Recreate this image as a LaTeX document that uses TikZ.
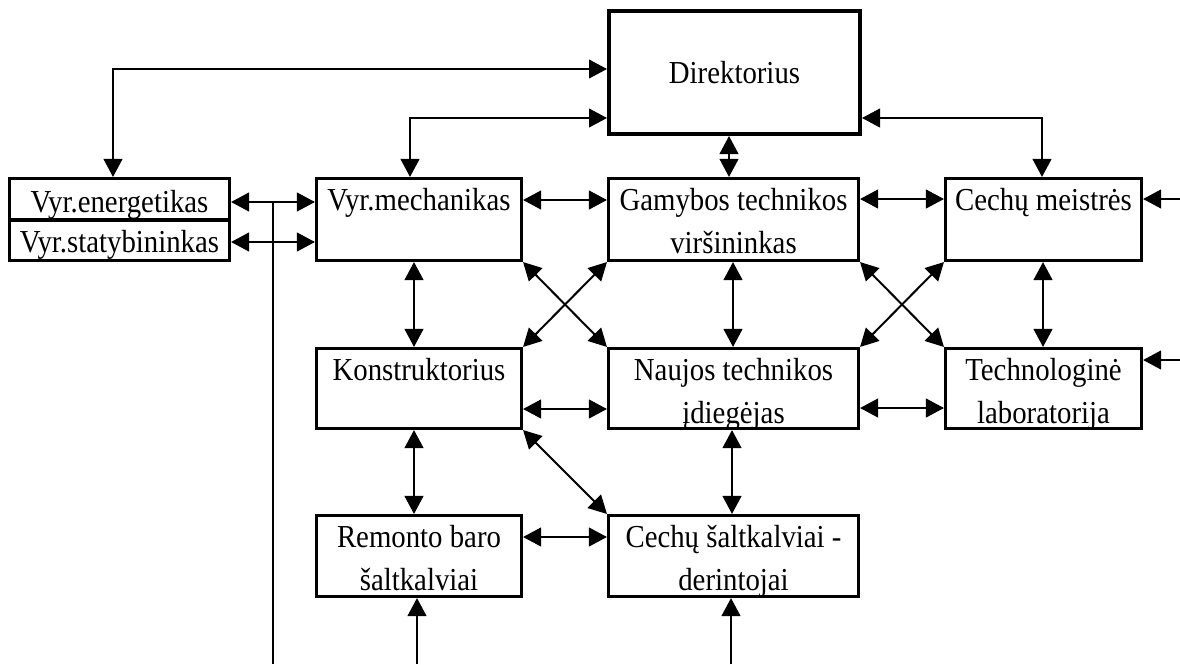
\documentclass[tikz,border=0pt]{standalone}
\usepackage{fontspec}
\setmainfont[FakeStretch=0.9]{Liberation Serif}
\usetikzlibrary{arrows.meta}
\begin{document}
\begin{tikzpicture}[x=0.75pt,y=-0.75pt,
  >={Triangle[length=13.5pt,width=14pt]},
  bx/.style 2 args={draw, line width=2.3pt, inner sep=0pt, minimum width=#1, minimum height=#2},
  txt/.style={inner sep=0pt, align=center, font=\fontsize{24pt}{32pt}\selectfont},
  con/.style={line width=1.5pt},
  thin/.style={line width=1.1pt}]
\useasboundingbox (0,0) rectangle (1180,664);
% boxes
\node[bx={188.25pt}{92.25pt}, line width=3pt] (dir) at (734.5,72.5) {};
\node[bx={165pt}{31.125pt}] (ener) at (119.5,199.25) {};
\node[bx={165pt}{30.375pt}] (stat) at (119.5,240.25) {};
\node[bx={153.75pt}{61.5pt}] (mech) at (419,219.5) {};
\node[bx={187.5pt}{61.5pt}] (gam) at (733.5,219.5) {};
\node[bx={147pt}{61.5pt}] (ceh) at (1043.5,219.5) {};
\node[bx={153.75pt}{60pt}] (kon) at (419,388.5) {};
\node[bx={187.5pt}{60pt}] (nau) at (733.5,388.5) {};
\node[bx={147pt}{60pt}] (tec) at (1043.5,388.5) {};
\node[bx={153.75pt}{60.75pt}] (rem) at (419,556) {};
\node[bx={187.5pt}{60.75pt}] (csa) at (733.5,556) {};
% texts
\node[txt, anchor=base] (tdir) at ([yshift=-7.9pt]dir.center) {Direktorius};
\node[txt, anchor=north] (tener) at ([yshift=-9.5pt]ener.north) {Vyr.energetikas};
\node[txt, anchor=north] (tstat) at ([yshift=-8.4pt]stat.north) {Vyr.statybininkas};
\node[txt, anchor=north] (tmech) at ([yshift=-8.4pt]mech.north) {Vyr.mechanikas};
\node[txt, anchor=north] (tgam) at ([yshift=-8.4pt]gam.north) {Gamybos technikos\\vir\v{s}ininkas};
\node[txt, anchor=north] (tceh) at ([yshift=-8.4pt]ceh.north) {Cech\k{u} meistr\.{e}s};
\node[txt, anchor=north] (tkon) at ([yshift=-8.4pt]kon.north) {Konstruktorius};
\node[txt, anchor=north] (tnau) at ([yshift=-8.4pt]nau.north) {Naujos technikos\\\k{i}dieg\.{e}jas};
\node[txt, anchor=north] (ttec) at ([yshift=-8.4pt]tec.north) {Technologin\.{e}\\laboratorija};
\node[txt, anchor=north] (trem) at ([yshift=-8.4pt]rem.north) {Remonto baro\\\v{s}altkalviai};
\node[txt, anchor=north] (tcsa) at ([yshift=-8.4pt]csa.north) {Cech\k{u} \v{s}altkalviai -\\derintojai};
% free-end coordinates
\coordinate (vt) at (273,202);
\coordinate (vb) at (273,664);
\coordinate (r1) at (1180,199);
\coordinate (r2) at (1180,360);
\coordinate (b1) at (417,664);
\coordinate (b2) at (731,664);
% connectors
\draw[con,<->] (ener.north -| 113,0) |- (dir.west |- 0,69);
\draw[con,<->] (mech.north -| 410,0) |- (dir.west |- 0,118);
\draw[con,<->] (ceh.north -| 1042,0) |- (dir.east |- 0,118);
\draw[con,<->] (dir.south -| 729,0) -- (gam.north -| 729,0);
\draw[con,<->] (ener.east |- 0,202) -- (mech.west |- 0,202);
\draw[con,<->] (stat.east |- 0,242) -- (mech.west |- 0,242);
\draw[thin] (vt) -- (vb);
\draw[con,<->] (mech.east |- 0,200) -- (gam.west |- 0,200);
\draw[con,<->] (gam.east |- 0,199) -- (ceh.west |- 0,199);
\draw[con,->] (r1) -- (ceh.east |- r1);
\draw[con,->] (r2) -- (tec.east |- r2);
\draw[con,<->] (mech.south -| 414,0) -- (kon.north -| 414,0);
\draw[con,<->] (gam.south -| 733,0) -- (nau.north -| 733,0);
\draw[con,<->] (ceh.south -| 1043,0) -- (tec.north -| 1043,0);
\draw[con,<->] (mech.south east) -- (nau.north west);
\draw[con,<->] (gam.south west) -- (kon.north east);
\draw[con,<->] (gam.south east) -- (tec.north west);
\draw[con,<->] (ceh.south west) -- (nau.north east);
\draw[con,<->] (kon.east |- 0,409) -- (nau.west |- 0,409);
\draw[con,<->] (nau.east |- 0,408) -- (tec.west |- 0,408);
\draw[con,<->] (kon.south east) -- (csa.north west);
\draw[con,<->] (kon.south -| 414,0) -- (rem.north -| 414,0);
\draw[con,<->] (nau.south -| 732,0) -- (csa.north -| 732,0);
\draw[con,<->] (rem.east |- 0,537) -- (csa.west |- 0,537);
\draw[con,->] (b1) -- (rem.south -| b1);
\draw[con,->] (b2) -- (csa.south -| b2);
\end{tikzpicture}
\end{document}
